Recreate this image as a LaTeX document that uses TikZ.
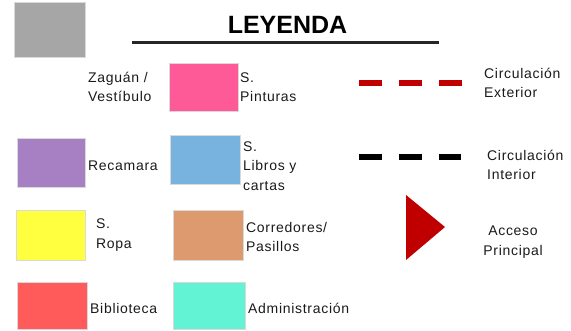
\documentclass[tikz,border=0pt]{standalone}
\usepackage{fontspec}
\setmainfont{Liberation Sans}
\newfontfamily\lblfont[LetterSpace=5]{Liberation Sans}
\definecolor{cgray}{HTML}{A6A6A6}
\definecolor{cpink}{HTML}{FF5A98}
\definecolor{cpurple}{HTML}{A77FC3}
\definecolor{cblue}{HTML}{78B2DE}
\definecolor{cyellow}{HTML}{FFFF40}
\definecolor{corange}{HTML}{DC9A6E}
\definecolor{cred}{HTML}{FF5B5B}
\definecolor{cteal}{HTML}{62F2D4}
\definecolor{cdark}{HTML}{C00000}
\definecolor{ctext}{HTML}{1A1A1A}
\begin{document}
\begin{tikzpicture}[x=1pt,y=-1pt,
  swatch/.style={anchor=north west,inner sep=0pt,outer sep=0pt,draw=white!85!black,line width=0.4pt},
  lbl/.style={anchor=west,inner sep=0pt,align=left,text=ctext,font=\lblfont\fontsize{14}{19.5}\selectfont},
  circline/.style={line width=5.5pt,dash pattern=on 23pt off 17pt}]
\useasboundingbox (0,0) rectangle (571,331);
% title
\node[inner sep=0pt,font=\fontsize{25}{30}\selectfont\bfseries,text=black] (title) at (287.5,25) {LEYENDA};
\coordinate (ul1) at (132,43);
\coordinate (ul2) at (439,43);
\draw[line width=3pt,black!85] (ul1) -- (ul2);
% swatches
\node[swatch,fill=cgray,minimum width=71pt,minimum height=55pt] (gray) at (14,2) {};
\node[lbl] (zag) at (88,87) {Zaguán /\\Vestíbulo};
\node[swatch,fill=cpink,minimum width=69pt,minimum height=48pt] (pink) at (169,63) {};
\node[lbl] (pint) at (240,87) {S.\\Pinturas};
\node[swatch,fill=cpurple,minimum width=68pt,minimum height=49pt] (purple) at (17,138) {};
\node[lbl] (rec) at (88,166) {Recamara};
\node[swatch,fill=cblue,minimum width=70pt,minimum height=49pt] (blue) at (170,135) {};
\node[lbl] (lib) at (243,166) {S.\\Libros y\\cartas};
\node[swatch,fill=cyellow,minimum width=69pt,minimum height=50pt] (yellow) at (16,210) {};
\node[lbl] (ropa) at (96,235) {S.\\Ropa};
\node[swatch,fill=corange,minimum width=70pt,minimum height=50pt] (orange) at (173,210) {};
\node[lbl] (corr) at (246,237) {Corredores/\\Pasillos};
\node[swatch,fill=cred,minimum width=70pt,minimum height=47pt] (red) at (17,282) {};
\node[lbl] (bib) at (90,308) {Biblioteca};
\node[swatch,fill=cteal,minimum width=72pt,minimum height=47pt] (teal) at (173,282) {};
\node[lbl] (adm) at (248,308) {Administración};
% circulation lines
\coordinate (ce1) at (359,83);
\coordinate (ce2) at (463,83);
\draw[circline,cdark] (ce1) -- (ce2);
\node[lbl] (ext) at (484,83) {Circulación\\Exterior};
\coordinate (ci1) at (359,157);
\coordinate (ci2) at (461,157);
\draw[circline,black] (ci1) -- (ci2);
\node[lbl] (int) at (487,165) {Circulación\\Interior};
% access
\fill[cdark] (406,195) -- (445,227) -- (406,260) -- cycle;
\node[lbl,anchor=center,align=center] (acc) at (513,242) {Acceso\\Principal};
\end{tikzpicture}
\end{document}
